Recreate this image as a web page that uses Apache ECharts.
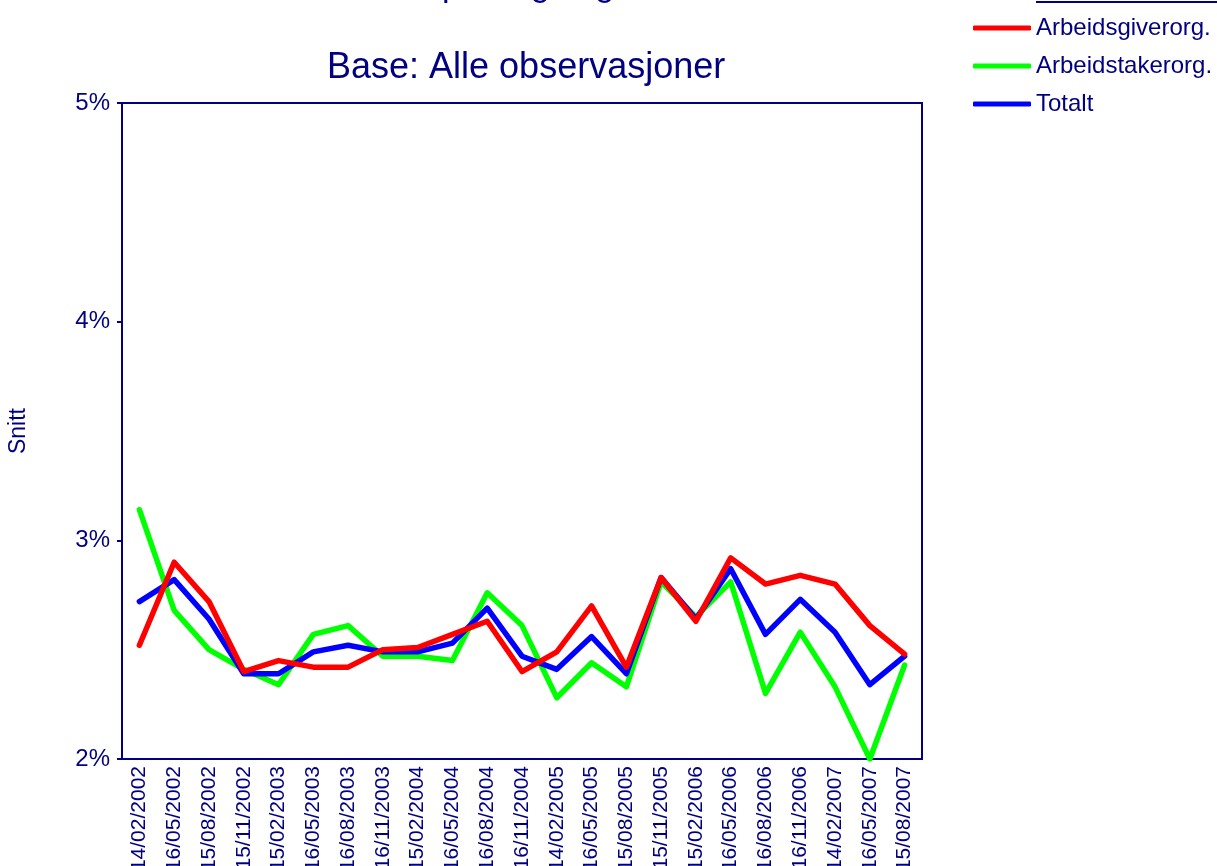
<!DOCTYPE html>
<html>
<head>
<meta charset="utf-8">
<title>Snitt</title>
<script src="https://cdn.jsdelivr.net/npm/echarts@6/dist/echarts.min.js"></script>
<style>
  html, body { margin: 0; padding: 0; background: #fff; }
  #chart { width: 1217px; height: 866px; }
</style>
</head>
<body>
<div id="chart"></div>
<script>
// datoer for observasjonene
const datoer = ['14/02/2002', '16/05/2002', '15/08/2002', '15/11/2002', '15/02/2003', '16/05/2003',
    '16/08/2003', '16/11/2003', '15/02/2004', '16/05/2004', '16/08/2004', '16/11/2004',
    '14/02/2005', '16/05/2005', '15/08/2005', '15/11/2005', '15/02/2006', '16/05/2006',
    '16/08/2006', '16/11/2006', '14/02/2007', '16/05/2007', '15/08/2007'];

// snitt i prosent
const arbeidsgiver = [2.52, 2.90, 2.72, 2.40, 2.45, 2.42, 2.42, 2.50, 2.51, 2.57, 2.63, 2.40,
    2.49, 2.70, 2.42, 2.83, 2.63, 2.92, 2.80, 2.84, 2.80, 2.61, 2.48];
const arbeidstaker = [3.14, 2.68, 2.50, 2.41, 2.34, 2.57, 2.61, 2.47, 2.47, 2.45, 2.76, 2.61,
    2.28, 2.44, 2.33, 2.81, 2.65, 2.81, 2.30, 2.58, 2.33, 2.00, 2.43];
const totalt = [2.72, 2.82, 2.64, 2.39, 2.39, 2.49, 2.52, 2.49, 2.49, 2.53, 2.69, 2.47,
    2.41, 2.56, 2.39, 2.83, 2.64, 2.87, 2.57, 2.73, 2.58, 2.34, 2.47];

const navy = '#000080';
const fontFamily = '"Liberation Sans", Arial, sans-serif';

function initChart() {
    const chartDom = document.getElementById('chart');
    const chart = echarts.init(chartDom, null, { renderer: 'canvas' });

    const option = {
        animation: false,
        backgroundColor: '#fff',
        textStyle: { fontFamily: fontFamily, color: navy },
        title: [
            {
                // hovedtittelen er nesten helt klippet bort i originalen
                text: 'Forventet prisstigning om 5 år',
                left: 284,
                top: -35,
                textStyle: { fontSize: 34, fontWeight: 'normal', color: navy, fontFamily: fontFamily }
            },
            {
                text: 'Base: Alle observasjoner',
                left: 322,
                top: 45,
                textStyle: { fontSize: 36, fontWeight: 'normal', color: navy, fontFamily: fontFamily }
            }
        ],
        legend: {
            orient: 'vertical',
            left: 973,
            top: 16,
            padding: 0,
            itemWidth: 58,
            itemHeight: 5,
            itemGap: 14,
            icon: 'roundRect',
            data: ['Arbeidsgiverorg.', 'Arbeidstakerorg.', 'Totalt'],
            textStyle: { fontSize: 24, color: navy, fontFamily: fontFamily }
        },
        graphic: [
            {
                type: 'line',
                shape: { x1: 1036, y1: 2, x2: 1217, y2: 2 },
                style: { stroke: navy, lineWidth: 2 }
            }
        ],
        grid: {
            left: 122,
            top: 103,
            width: 800,
            height: 656,
            outerBoundsMode: 'none',
            containLabel: false,
            show: true,
            borderColor: navy,
            borderWidth: 2,
            backgroundColor: '#fff'
        },
        xAxis: {
            type: 'category',
            data: datoer,
            boundaryGap: true,
            axisLine: { lineStyle: { color: navy, width: 2 } },
            axisTick: { alignWithLabel: true, length: 5, lineStyle: { color: navy, width: 2 } },
            axisLabel: {
                interval: 0,
                rotate: 90,
                margin: 7,
                fontSize: 21,
                color: navy,
                fontFamily: fontFamily
            }
        },
        yAxis: {
            type: 'value',
            min: 2,
            max: 5,
            interval: 1,
            name: 'Snitt',
            nameLocation: 'middle',
            nameGap: 92,
            nameRotate: 90,
            nameTextStyle: { fontSize: 23, color: navy, fontFamily: fontFamily },
            axisLine: { show: true, lineStyle: { color: navy, width: 2 } },
            axisTick: { show: true, length: 5, lineStyle: { color: navy, width: 2 } },
            axisLabel: {
                formatter: '{value}%',
                margin: 12,
                fontSize: 24,
                color: navy,
                fontFamily: fontFamily
            },
            splitLine: { show: false }
        },
        series: [
            {
                name: 'Arbeidstakerorg.',
                type: 'line',
                data: arbeidstaker,
                showSymbol: false,
                itemStyle: { color: '#00ff00' },
                lineStyle: { color: '#00ff00', width: 5.5, cap: 'round', join: 'round' },
                z: 2
            },
            {
                name: 'Totalt',
                type: 'line',
                data: totalt,
                showSymbol: false,
                itemStyle: { color: '#0000ff' },
                lineStyle: { color: '#0000ff', width: 5.5, cap: 'round', join: 'round' },
                z: 3
            },
            {
                name: 'Arbeidsgiverorg.',
                type: 'line',
                data: arbeidsgiver,
                showSymbol: false,
                itemStyle: { color: '#ff0000' },
                lineStyle: { color: '#ff0000', width: 5.5, cap: 'round', join: 'round' },
                z: 4
            }
        ]
    };

    chart.setOption(option);
    window.addEventListener('resize', function() { chart.resize(); });
}

initChart();
</script>
</body>
</html>
